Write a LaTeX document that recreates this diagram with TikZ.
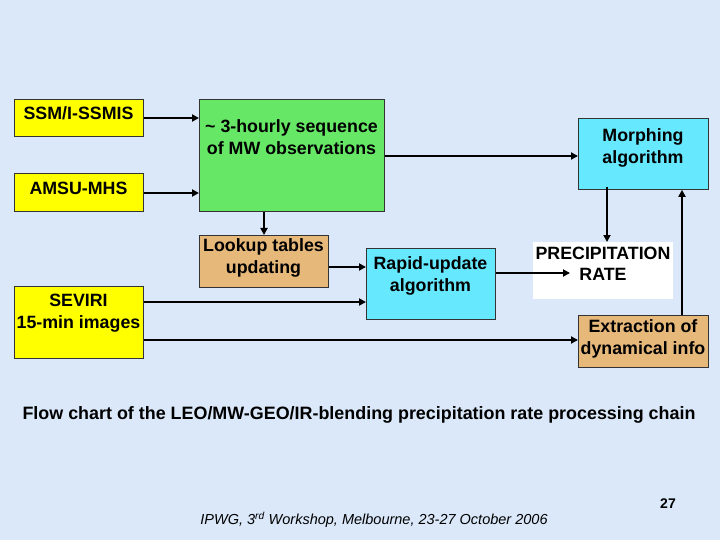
\documentclass[tikz,border=0pt]{standalone}
\usepackage{fontspec}
\setmainfont{Liberation Sans}
\usetikzlibrary{arrows.meta}
\definecolor{bg}{RGB}{218,232,249}
\definecolor{yel}{RGB}{255,255,0}
\definecolor{grn}{RGB}{102,232,102}
\definecolor{cyn}{RGB}{102,232,255}
\definecolor{tan}{RGB}{230,184,122}
\tikzset{
  box/.style={draw=black!80, line width=0.8pt, anchor=north west, inner sep=0pt},
  txt/.style={font=\fontsize{17.8}{21.5}\selectfont\bfseries, align=center, inner sep=0pt},
  arr/.style={line width=2.2pt, -{Triangle[length=7pt,width=7pt]}},
  ln/.style={line width=2.2pt}
}
\begin{document}
\begin{tikzpicture}[x=1pt,y=-1pt]
\fill[bg] (0,0) rectangle (720,540);
\useasboundingbox (0,0) rectangle (720,540);
% boxes
\node (ssm) [box, fill=yel, minimum width=129pt, minimum height=37pt] at (14,99) {};
\node (amsu) [box, fill=yel, minimum width=129pt, minimum height=38pt] at (14,173) {};
\node (sev) [box, fill=yel, minimum width=129pt, minimum height=72pt] at (14,286) {};
\node (seq) [box, fill=grn, minimum width=185pt, minimum height=112pt] at (199,99) {};
\node (lut) [box, fill=tan, minimum width=129pt, minimum height=52pt] at (199,235) {};
\node (rap) [box, fill=cyn, minimum width=129pt, minimum height=71pt] at (366,248) {};
\node (mor) [box, fill=cyn, minimum width=130pt, minimum height=71pt] at (578,118) {};
\node (pre) [anchor=north west, fill=white, inner sep=0pt, minimum width=140pt, minimum height=57pt] at (533,242) {};
\node (ext) [box, fill=tan, minimum width=130pt, minimum height=52pt] at (578,315) {};
% texts
\node (tssm) [txt] at (78.5,113) {SSM/I-SSMIS};
\node (tamsu) [txt] at (78.5,188) {AMSU-MHS};
\node (tsev) [txt] at (78.5,313) {SEVIRI\\15-min images};
\node (tseq) [txt] at (291.5,137) {\textasciitilde{} 3-hourly sequence\\of MW observations};
\node (tlut) [txt] at (263.5,258) {Lookup tables\\updating};
\node (trap) [txt] at (430.5,276) {Rapid-update\\algorithm};
\node (tmor) [txt] at (643,148) {Morphing\\algorithm};
\node (tpre) [txt] at (603,264) {PRECIPITATION\\RATE};
\node (text) [txt] at (643,339) {Extraction of\\dynamical info};
% connectors
\coordinate (preend) at (570,273);
\draw[arr] (ssm.east |- 0,118) -- (seq.west |- 0,118);
\draw[arr] (amsu.east |- 0,193) -- (seq.west |- 0,193);
\draw[arr] (seq.east |- 0,156) -- (mor.west |- 0,156);
\draw[arr] (seq.south -| 264,0) -- (lut.north -| 264,0);
\draw[arr] (lut.east |- 0,267) -- (rap.west |- 0,267);
\draw[arr] (sev.east |- 0,302) -- (rap.west |- 0,302);
\draw[arr] (sev.east |- 0,340) -- (ext.west |- 0,340);
\draw[arr] (rap.east |- 0,273) -- (preend);
\draw[arr] ([yshift=3pt]mor.south -| 607,0) -- (pre.north -| 607,0);
\draw[arr] (ext.north -| 682,0) -- (mor.south -| 682,0);
% caption and footer
\node (cap) [font=\fontsize{17.9}{21}\selectfont\bfseries, inner sep=0pt] at (359,415) {Flow chart of the LEO/MW-GEO/IR-blending precipitation rate processing chain};
\node (foot) [font=\fontsize{14.5}{17}\selectfont\itshape, inner sep=0pt] at (374,520) {IPWG, 3\textsuperscript{rd} Workshop, Melbourne, 23-27 October 2006};
\node (pg) [font=\fontsize{14}{16}\selectfont\bfseries, inner sep=0pt] at (668,504) {27};
\end{tikzpicture}
\end{document}
